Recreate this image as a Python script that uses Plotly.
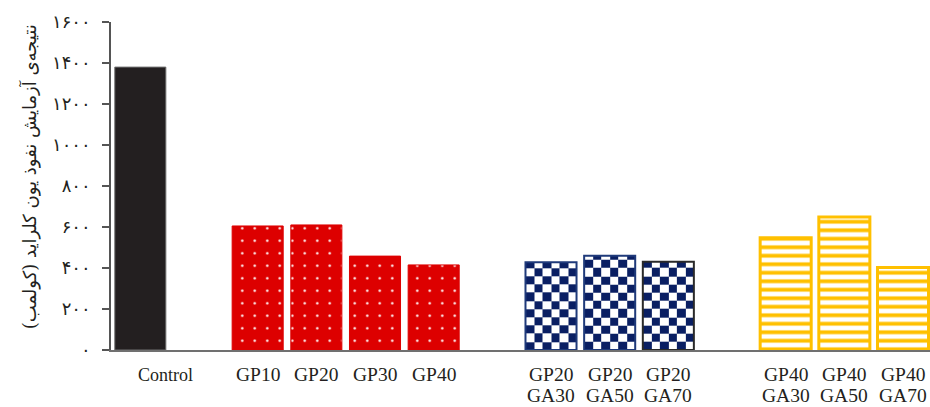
import plotly.graph_objects as go

# Specimen labels (two text lines where needed) and results, in coulombs
label_top = ["Control", "GP10", "GP20", "GP30", "GP40",
             "GP20", "GP20", "GP20", "GP40", "GP40", "GP40"]
label_bottom = ["", "", "", "", "",
                "GA30", "GA50", "GA70", "GA30", "GA50", "GA70"]
charge = [1380, 605, 610, 458, 415, 428, 460, 431, 548, 649, 403]
group = [0, 1, 1, 1, 1, 2, 2, 2, 3, 3, 3]

y_ticks = [0, 200, 400, 600, 800, 1000, 1200, 1400, 1600]
persian_digits = "۰۱۲۳۴۵۶۷۸۹"
y_tick_text = ["".join(persian_digits[int(d)] for d in str(v)) for v in y_ticks]
y_title = "نتیجه‌ی آزمایش نفوذ یون کلراید (کولمب)"

BAR_W = 0.87
pos = [i + g for i, g in enumerate(group)]

LATIN = "Liberation Serif, Times New Roman, serif"
PERSIAN = "DejaVu Serif, DejaVu Sans, serif"

fig = go.Figure()


def members(g):
    return [i for i in range(len(charge)) if group[i] == g]


# Control: solid dark bar
idx = members(0)
fig.add_trace(go.Bar(
    x=[pos[i] for i in idx], y=[charge[i] for i in idx], width=BAR_W,
    marker=dict(color="#231F20", line=dict(color="#6E6E6E", width=1)),
    hoverinfo="skip"))

# GP series: red with white dots
idx = members(1)
fig.add_trace(go.Bar(
    x=[pos[i] for i in idx], y=[charge[i] for i in idx], width=BAR_W,
    marker=dict(color="#DD0000", line=dict(color="#DD0000", width=1),
                pattern=dict(shape=".", fgcolor="white", bgcolor="#DD0000",
                             size=12.5, solidity=0.03, fillmode="replace")),
    hoverinfo="skip"))

# GP20 + GA series: navy checkerboard (heatmap cells clipped to each bar)
idx = members(2)
COLS = 6
CELL = 40
for i in idx:
    left = pos[i] - BAR_W / 2
    xe = [left + BAR_W * k / COLS for k in range(COLS + 1)]
    ye = list(range(0, int(charge[i]), CELL)) + [charge[i]]
    z = [[(r + c) % 2 for c in range(COLS)] for r in range(len(ye) - 1)]
    fig.add_trace(go.Heatmap(
        x=xe, y=ye, z=z, zmin=0, zmax=1, showscale=False,
        colorscale=[[0, "#0A1F63"], [1, "white"]], hoverinfo="skip"))
fig.add_trace(go.Bar(
    x=[pos[i] for i in idx], y=[charge[i] for i in idx], width=BAR_W,
    marker=dict(color="rgba(0,0,0,0)",
                line=dict(color=["#1F3A7A", "#1F3A7A", "#2A2A2A"], width=2)),
    hoverinfo="skip"))

# GP40 + GA series: yellow horizontal stripes
idx = members(3)
fig.add_trace(go.Bar(
    x=[pos[i] for i in idx], y=[charge[i] for i in idx], width=BAR_W,
    marker=dict(color="white", line=dict(color="#FFC000", width=3),
                pattern=dict(shape="-", fgcolor="#FFC000", bgcolor="white",
                             size=8.5, solidity=0.45, fillmode="replace")),
    hoverinfo="skip"))

# Category labels beneath the bars
for i in range(len(charge)):
    if group[i] == 0:
        fig.add_annotation(x=pos[i], y=-0.077, xref="x", yref="paper",
                           text=label_top[i], showarrow=False, xshift=25,
                           xanchor="center", yanchor="middle",
                           font=dict(family=LATIN, size=18, color="#231F20"))
        continue
    fig.add_annotation(x=pos[i], y=-0.075, xref="x", yref="paper",
                       text=label_top[i], showarrow=False,
                       xanchor="center", yanchor="middle",
                       font=dict(family=LATIN, size=19.5, color="#231F20"))
    if label_bottom[i]:
        fig.add_annotation(x=pos[i], y=-0.139, xref="x", yref="paper",
                           text=label_bottom[i], showarrow=False,
                           xanchor="center", yanchor="middle",
                           font=dict(family=LATIN, size=19.5, color="#231F20"))

# Rotated axis title
fig.add_annotation(x=-0.1, y=0.527, xref="paper", yref="paper",
                   text=y_title, textangle=-90, showarrow=False,
                   xanchor="center", yanchor="middle",
                   font=dict(family=PERSIAN, size=18, color="#231F20"))

fig.update_layout(
    width=930, height=407,
    margin=dict(l=111, r=0, t=22, b=57),
    paper_bgcolor="white", plot_bgcolor="white",
    showlegend=False, barmode="overlay",
    xaxis=dict(range=[-0.5, 13.46], showgrid=False, zeroline=False,
               showticklabels=False, ticks="", showline=True,
               linecolor="#707070", linewidth=2),
    yaxis=dict(range=[0, 1600], showgrid=False, zeroline=False,
               tickmode="array", tickvals=y_ticks, ticktext=y_tick_text,
               ticks="outside", ticklen=7, tickcolor="#555555", tickwidth=1.5,
               showline=True, linecolor="#555555", linewidth=1.5,
               ticklabelstandoff=8,
               tickfont=dict(family=PERSIAN, size=18, color="#231F20")),
)

fig.write_html("out.html")
